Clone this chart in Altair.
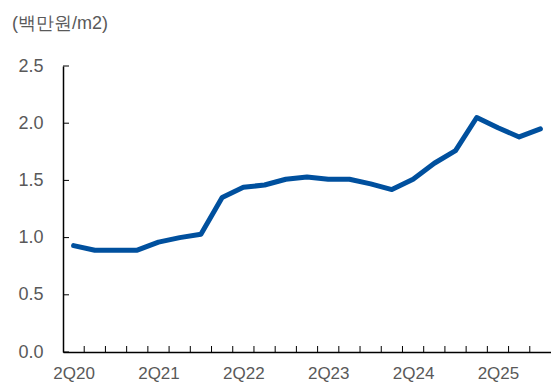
import altair as alt
import pandas as pd

quarters = ["2Q20", "3Q20", "4Q20",
            "1Q21", "2Q21", "3Q21", "4Q21",
            "1Q22", "2Q22", "3Q22", "4Q22",
            "1Q23", "2Q23", "3Q23", "4Q23",
            "1Q24", "2Q24", "3Q24", "4Q24",
            "1Q25", "2Q25", "3Q25", "4Q25"]
values = [0.93, 0.89, 0.89, 0.89, 0.96, 1.00, 1.03, 1.35, 1.44, 1.46, 1.51, 1.53,
          1.51, 1.51, 1.47, 1.42, 1.51, 1.65, 1.76, 2.05, 1.96, 1.88, 1.95]
y_ticks = [0.0, 0.5, 1.0, 1.5, 2.0, 2.5]
label_quarters = ["2Q20", "2Q21", "2Q22", "2Q23", "2Q24", "2Q25"]

W, H = 488, 286
n = len(quarters)

df = pd.DataFrame({"q": quarters, "pos": [i + 0.5 for i in range(n)], "v": values})
xt = pd.DataFrame({"b": list(range(1, n))})
yt = pd.DataFrame({"t": y_ticks})

label_pos = [quarters.index(q) + 0.5 for q in label_quarters]
arr = "[" + ",".join("'%s'" % q for q in quarters) + "]"
label_expr = arr + "[floor(datum.value)]"

font = "Liberation Sans"
grey = "#595959"

xscale = alt.Scale(domain=[0, n], nice=False, zero=False)
yscale = alt.Scale(domain=[0, 2.5], nice=False)

line = alt.Chart(df).mark_line(color="#00509E", strokeWidth=5, strokeCap="round", strokeJoin="round").encode(
    x=alt.X("pos:Q", scale=xscale,
            axis=alt.Axis(values=label_pos, labelExpr=label_expr, title=None, grid=False,
                          tickSize=0, domainColor="#000000", domainWidth=1.5,
                          labelColor=grey, labelFont=font, labelFontSize=17,
                          labelPadding=13)),
    y=alt.Y("v:Q", scale=yscale,
            axis=alt.Axis(values=y_ticks, format=".1f", title=None, grid=False,
                          tickSize=0, domainColor="#000000", domainWidth=1.5,
                          labelColor=grey, labelFont=font, labelFontSize=18,
                          labelPadding=20)),
)

xticks = alt.Chart(xt).mark_rule(color="#000000", strokeWidth=1).encode(
    x=alt.X("b:Q", scale=xscale),
    y=alt.value(H),
    y2=alt.value(H - 6),
)

yticks = alt.Chart(yt).mark_rule(color="#000000", strokeWidth=1).encode(
    y=alt.Y("t:Q", scale=yscale),
    x=alt.value(0),
    x2=alt.value(6),
)

unit = alt.Chart(pd.DataFrame({"t": ["(백만원/m2)"]})).mark_text(
    align="left", baseline="alphabetic", font=font, fontSize=18, color=grey
).encode(text="t:N", x=alt.value(-51), y=alt.value(-37))

chart = alt.layer(xticks, yticks, line, unit).properties(
    width=W, height=H,
    autosize=alt.AutoSizeParams(type="none"),
    padding={"left": 63, "top": 66, "right": 0, "bottom": 35},
).configure_view(stroke=None)

chart.save("out.html", embed_options={"renderer": "svg", "actions": False})
